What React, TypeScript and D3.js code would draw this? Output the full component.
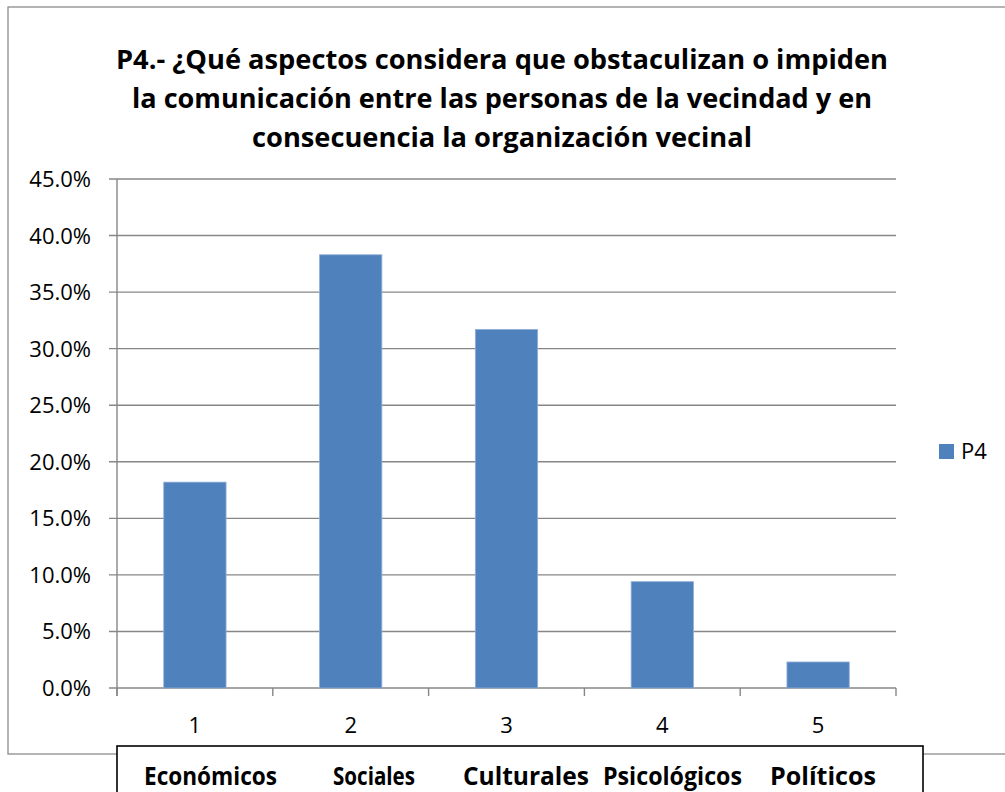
import React from "react";
import * as d3 from "d3";

const categories = ["1", "2", "3", "4", "5"];
const values = [0.182, 0.383, 0.317, 0.094, 0.023];
const yTicks = [0, 0.05, 0.1, 0.15, 0.2, 0.25, 0.3, 0.35, 0.4, 0.45];
const boxLabels = ["Económicos", "Sociales", "Culturales", "Psicológicos", "Políticos"];
const boxLabelX = [144, 333, 463, 603, 770];
const boxLabelW = [133, 82, 126, 139, 106];
const titleLines = [
  "P4.- ¿Qué aspectos considera que obstaculizan o impiden",
  "la comunicación entre las personas de la vecindad y en",
  "consecuencia la organización vecinal",
];
const titleW = [772, 740, 500];
const seriesName = "P4";

const W = 1005;
const H = 792;
const left = 117;
const right = 896;
const top = 179;
const bottom = 688;
const font = "'Open Sans', Lato, sans-serif";

export default function App() {
  const x = d3.scaleBand<string>().domain(categories).range([left, right]).padding(0);
  const y = d3.scaleLinear().domain([0, 0.45]).range([bottom, top]);
  const bw = x.bandwidth() * 0.4;
  const fmt = d3.format(".1%");
  return (
    <svg width={W} height={H} style={{ position: "absolute", left: 0, top: 0 }}>
      <rect x={0} y={0} width={W} height={H} fill="#fff" />
      <rect x={8} y={7} width={1020} height={747} fill="#fff" stroke="#8c8c8c" strokeWidth={1.3} />
      {titleLines.map((t, i) => (
        <text
          key={i}
          x={502}
          y={69 + i * 39}
          textAnchor="middle"
          fontFamily={font}
          fontWeight="bold"
          fontSize={26}
          fill="#000"
          textLength={titleW[i]}
          lengthAdjust="spacingAndGlyphs"
        >
          {t}
        </text>
      ))}
      {yTicks.map((t) => (
        <g key={t}>
          <line x1={left - 8} x2={right} y1={y(t)} y2={y(t)} stroke="#878787" strokeWidth={1.4} />
          <text x={91} y={y(t) + 8} textAnchor="end" fontFamily={font} fontSize={22} fill="#000">
            {fmt(t)}
          </text>
        </g>
      ))}
      <line x1={left} x2={left} y1={top} y2={bottom + 8} stroke="#878787" strokeWidth={1.4} />
      {d3.range(categories.length + 1).map((i) => {
        const xx = left + i * x.step();
        return <line key={i} x1={xx} x2={xx} y1={bottom} y2={bottom + 8} stroke="#878787" strokeWidth={1.4} />;
      })}
      {categories.map((c, i) => (
        <rect
          key={c}
          x={(x(c) as number) + (x.bandwidth() - bw) / 2}
          y={y(values[i])}
          width={bw}
          height={bottom - y(values[i])}
          fill="#4F81BD"
          stroke="#8FAFD8"
          strokeWidth={0.8}
        />
      ))}
      {categories.map((c) => (
        <text key={c} x={(x(c) as number) + x.bandwidth() / 2} y={733} textAnchor="middle" fontFamily={font} fontSize={22} fill="#000">
          {c}
        </text>
      ))}
      <rect x={939} y={444} width={15} height={15} fill="#4F81BD" />
      <text x={961} y={459} fontFamily={font} fontSize={22} fill="#000">
        {seriesName}
      </text>
      <rect x={117} y={746} width={806} height={80} fill="#fff" stroke="#000" strokeWidth={1.6} />
      {boxLabels.map((l, i) => (
        <text
          key={l}
          x={boxLabelX[i]}
          y={785}
          fontFamily={font}
          fontWeight="bold"
          fontSize={25}
          fill="#000"
          textLength={boxLabelW[i]}
          lengthAdjust="spacingAndGlyphs"
        >
          {l}
        </text>
      ))}
    </svg>
  );
}
